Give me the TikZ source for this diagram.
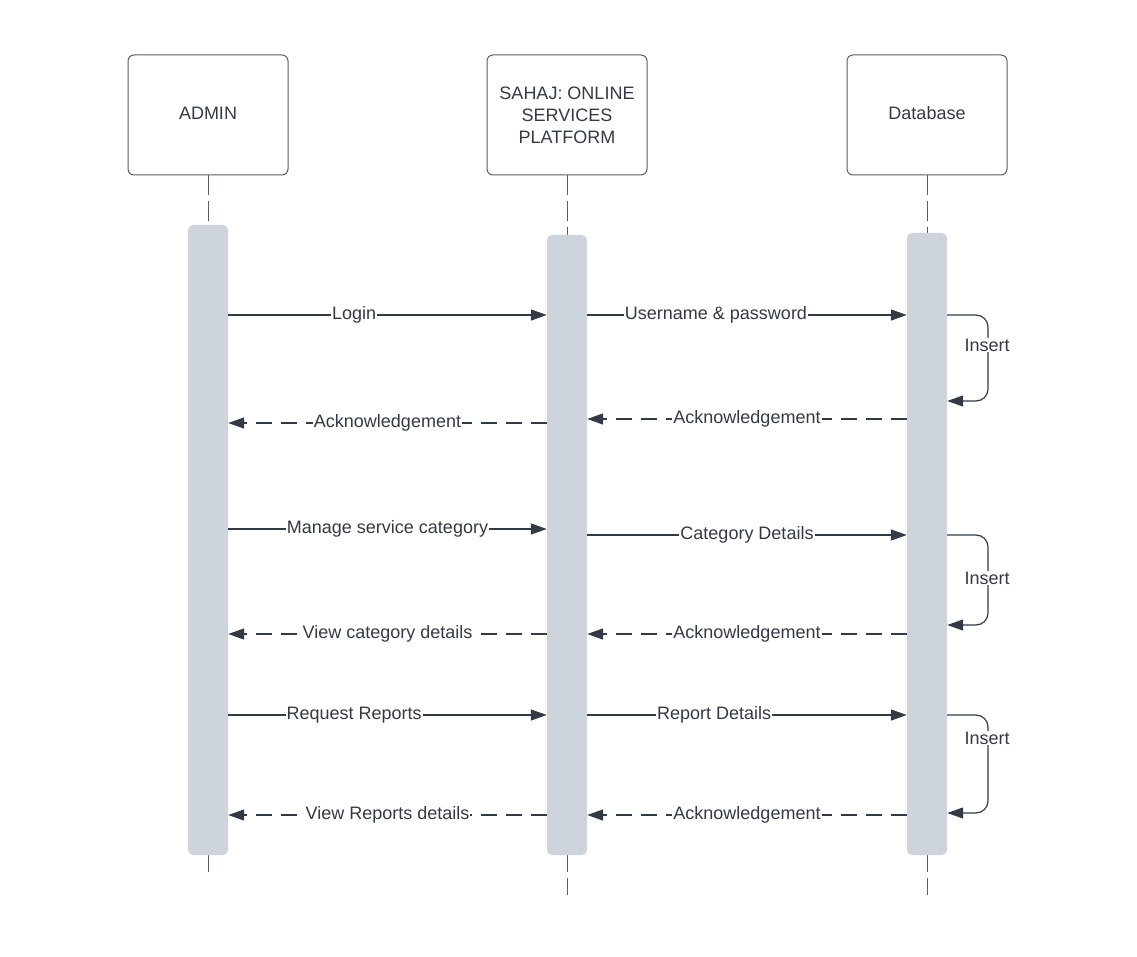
\documentclass[tikz,border=0pt]{standalone}
\usepackage{fontspec}
\setmainfont{Liberation Sans}
\usetikzlibrary{arrows.meta}
\definecolor{ink}{HTML}{343A45}
\definecolor{barfill}{HTML}{CED4DC}
\definecolor{frame}{HTML}{5A5E66}
\tikzset{
  actor/.style={draw=frame, line width=1pt, rounded corners=6pt, minimum width=160pt,
    minimum height=120pt, align=center, text=ink, font=\fontsize{18}{22}\selectfont, inner sep=0pt},
  lifeline/.style={draw=frame, line width=1pt, dash pattern=on 20pt off 6pt},
  actbar/.style={fill=barfill, draw=none, rounded corners=5pt, minimum width=40pt, inner sep=0pt},
  msg/.style={draw=ink, line width=1.6pt, -{Triangle[length=16pt,width=11pt]}},
  reply/.style={msg, dash pattern=on 16pt off 9pt},
  selfmsg/.style={draw=ink, line width=1.2pt, rounded corners=12pt, -{Triangle[length=16pt,width=11pt]}},
  lbl/.style={fill=white, text=ink, inner sep=1pt, font=\fontsize{18}{20}\selectfont}
}
\begin{document}
\begin{tikzpicture}[x=1pt, y=-1pt]
\useasboundingbox (0,0) rectangle (1137,957);

% participants
\node[actor, text depth=4pt] (admin) at (208,115) {ADMIN};
\node[actor] (sahaj) at (567,115) {SAHAJ: ONLINE\\SERVICES\\PLATFORM};
\node[actor, text depth=4pt] (db) at (927,115) {Database};

% lifelines
\coordinate (adminEnd) at (208,875);
\coordinate (sahajEnd) at (567,895);
\coordinate (dbEnd) at (927,895);
\draw[lifeline] (admin.south) -- (adminEnd);
\draw[lifeline] (sahaj.south) -- (sahajEnd);
\draw[lifeline] (db.south) -- (dbEnd);

% activation bars
\node[actbar, minimum height=630pt] (abar) at (208,540) {};
\node[actbar, minimum height=620pt] (sbar) at (567,545) {};
\node[actbar, minimum height=622pt] (dbar) at (927,544) {};

% login
\draw[msg] (abar.east |- 0,315) -- node[lbl, pos=.395] (m1) {Login} (sbar.west |- 0,315);
\draw[msg] (sbar.east |- 0,315) -- node[lbl, pos=.403] (m2) {Username \& password} (dbar.west |- 0,315);
\draw[selfmsg] (dbar.east |- 0,315) -- (988,315) -- (988,401) -- (dbar.east |- 0,401);
\node[lbl] (ins1) at (987,345) {Insert};
\draw[reply] (dbar.west |- 0,419) -- node[lbl, pos=.5] (m3) {Acknowledgement} (sbar.east |- 0,419);
\draw[reply] (sbar.west |- 0,423) -- node[lbl, pos=.5] (m4) {Acknowledgement} (abar.east |- 0,423);

% service category
\draw[msg] (abar.east |- 0,529) -- node[lbl, pos=.5] (m5) {Manage service category} (sbar.west |- 0,529);
\draw[msg] (sbar.east |- 0,535) -- node[lbl, pos=.5] (m6) {Category Details} (dbar.west |- 0,535);
\draw[selfmsg] (dbar.east |- 0,535) -- (988,535) -- (988,625) -- (dbar.east |- 0,625);
\node[lbl] (ins2) at (987,578) {Insert};
\draw[reply] (dbar.west |- 0,634) -- node[lbl, pos=.5] (m7) {Acknowledgement} (sbar.east |- 0,634);
\draw[reply] (sbar.west |- 0,634) -- node[lbl, pos=.5] (m8) {View category details} (abar.east |- 0,634);

% reports
\draw[msg, line width=1.1pt] (abar.east |- 0,715) -- node[lbl, pos=.395] (m9) {Request Reports} (sbar.west |- 0,715);
\draw[msg] (sbar.east |- 0,715) -- node[lbl, pos=.397] (m10) {Report Details} (dbar.west |- 0,715);
\draw[selfmsg] (dbar.east |- 0,715) -- (988,715) -- (988,813) -- (dbar.east |- 0,813);
\node[lbl] (ins3) at (987,738) {Insert};
\draw[reply] (dbar.west |- 0,815) -- node[lbl, pos=.5] (m11) {Acknowledgement} (sbar.east |- 0,815);
\draw[reply, line width=1.1pt] (sbar.west |- 0,815) -- node[lbl, pos=.5] (m12) {View Reports details} (abar.east |- 0,815);
\end{tikzpicture}
\end{document}
